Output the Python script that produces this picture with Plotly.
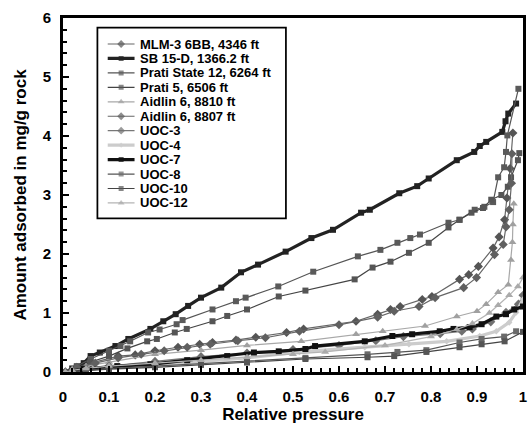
import plotly.graph_objects as go

# ---- isotherm data: relative pressure (x) vs amount adsorbed, mg/g rock (y) ----
series_names = [
    "MLM-3 6BB, 4346 ft",
    "SB 15-D, 1366.2 ft",
    "Prati State 12, 6264 ft",
    "Prati 5, 6506 ft",
    "Aidlin 6, 8810 ft",
    "Aidlin 6, 8807 ft",
    "UOC-3",
    "UOC-4",
    "UOC-7",
    "UOC-8",
    "UOC-10",
    "UOC-12",
]

mlm3_x = [0.005, 0.03, 0.06, 0.12, 0.157, 0.2, 0.25, 0.297, 0.325, 0.376, 0.419, 0.486, 0.523,
          0.637, 0.684, 0.712, 0.733, 0.781, 0.802, 0.862, 0.882, 0.903, 0.935, 0.948, 0.96,
          0.965, 0.972, 0.978]
mlm3_y = [0.0, 0.08, 0.15, 0.27, 0.29, 0.36, 0.42, 0.47, 0.5, 0.54, 0.59, 0.67, 0.73,
          0.86, 0.98, 1.06, 1.11, 1.23, 1.28, 1.57, 1.65, 1.79, 2.1, 2.29, 2.58,
          2.95, 3.45, 4.05]

sb15_x = [0.005, 0.02, 0.045, 0.06, 0.08, 0.114, 0.142, 0.19, 0.218, 0.245, 0.272, 0.30, 0.344,
          0.387, 0.424, 0.484, 0.54, 0.587, 0.648, 0.667, 0.731, 0.77, 0.795, 0.856, 0.894,
          0.906, 0.92, 0.955, 0.962, 0.968, 0.985]
sb15_y = [0.0, 0.06, 0.15, 0.27, 0.33, 0.44, 0.56, 0.73, 0.86, 0.98, 1.12, 1.26, 1.43,
          1.69, 1.82, 2.04, 2.27, 2.41, 2.70, 2.75, 3.03, 3.15, 3.28, 3.59, 3.73,
          3.83, 3.9, 4.07, 4.25, 4.38, 4.55]

prati12_x = [0.005, 0.03, 0.06, 0.1, 0.125, 0.146, 0.185, 0.21, 0.247, 0.26, 0.325, 0.376, 0.397,
             0.468, 0.544, 0.641, 0.69, 0.727, 0.755, 0.776, 0.838, 0.862, 0.895, 0.916, 0.935,
             0.946, 0.959, 0.963, 0.966, 0.99]
prati12_y = [0.0, 0.1, 0.22, 0.36, 0.44, 0.52, 0.67, 0.72, 0.81, 0.88, 1.06, 1.2, 1.26,
             1.45, 1.70, 1.96, 2.07, 2.19, 2.27, 2.33, 2.53, 2.58, 2.75, 2.8, 2.88,
             3.3, 3.47, 3.73, 4.01, 4.8]

prati5_x = [0.005, 0.03, 0.06, 0.1, 0.14, 0.183, 0.204, 0.243, 0.269, 0.325, 0.357, 0.4, 0.469,
            0.527, 0.634, 0.673, 0.712, 0.752, 0.795, 0.838, 0.862, 0.888, 0.913, 0.931, 0.953,
            0.967, 0.974, 0.989, 0.992]
prati5_y = [0.0, 0.08, 0.17, 0.27, 0.4, 0.52, 0.56, 0.67, 0.73, 0.86, 0.95, 1.06, 1.28,
            1.38, 1.57, 1.77, 1.87, 2.02, 2.19, 2.45, 2.58, 2.7, 2.78, 2.92, 3.0,
            3.14, 3.3, 3.59, 3.71]

aid8810_x = [0.005, 0.02, 0.05, 0.1, 0.2, 0.3, 0.4, 0.518, 0.637, 0.695, 0.787, 0.856, 0.9,
             0.92, 0.946, 0.968, 0.974, 0.977, 0.978, 0.98]
aid8810_y = [0.0, 0.05, 0.1, 0.17, 0.3, 0.37, 0.45, 0.52, 0.64, 0.69, 0.78, 0.94, 1.03,
             1.15, 1.35, 1.48, 1.9, 2.2, 2.5, 2.85]

aid8807_x = [0.005, 0.03, 0.07, 0.12, 0.17, 0.22, 0.27, 0.32, 0.38, 0.44, 0.514, 0.6, 0.684,
             0.72, 0.774, 0.809, 0.871, 0.899, 0.938, 0.957, 0.963, 0.97, 0.975, 0.976]
aid8807_y = [0.0, 0.07, 0.15, 0.24, 0.3, 0.36, 0.42, 0.47, 0.53, 0.58, 0.69, 0.8, 0.93,
             1.03, 1.11, 1.26, 1.43, 1.6, 1.99, 2.16, 2.46, 2.75, 3.2, 3.7]

uoc3_x = [0.005, 0.05, 0.1, 0.2, 0.3, 0.4, 0.5, 0.6, 0.68, 0.74, 0.82, 0.867, 0.89, 0.93,
          0.963, 0.99, 1.0]
uoc3_y = [0.0, 0.05, 0.1, 0.18, 0.26, 0.32, 0.38, 0.45, 0.53, 0.6, 0.65, 0.69, 0.73, 0.85,
          1.01, 1.15, 1.3]

uoc4_x = [0.005, 0.05, 0.1, 0.2, 0.3, 0.4, 0.514, 0.656, 0.752, 0.834, 0.906, 0.942, 0.97,
          0.985, 1.0]
uoc4_y = [0.0, 0.04, 0.07, 0.12, 0.18, 0.24, 0.34, 0.42, 0.47, 0.52, 0.61, 0.69, 0.84,
          1.01, 1.23]

uoc7_x = [0.005, 0.045, 0.118, 0.19, 0.27, 0.357, 0.415, 0.469, 0.527, 0.548, 0.656, 0.716,
          0.759, 0.819, 0.849, 0.884, 0.91, 0.942, 0.963, 0.981, 1.0]
uoc7_y = [0.0, 0.05, 0.1, 0.13, 0.2, 0.27, 0.33, 0.35, 0.39, 0.44, 0.52, 0.61,
          0.64, 0.69, 0.73, 0.76, 0.81, 0.94, 0.98, 1.06, 1.11]

uoc8_x = [0.005, 0.05, 0.1, 0.2, 0.3, 0.4, 0.527, 0.662, 0.727, 0.79, 0.862, 0.91, 0.959, 0.985]
uoc8_y = [0.0, 0.03, 0.06, 0.1, 0.14, 0.18, 0.24, 0.3, 0.34, 0.37, 0.5, 0.56, 0.6, 0.69]

uoc10_x = [0.005, 0.05, 0.1, 0.2, 0.3, 0.4, 0.527, 0.662, 0.72, 0.79, 0.862, 0.91, 0.96, 1.0]
uoc10_y = [0.0, 0.02, 0.05, 0.08, 0.12, 0.16, 0.22, 0.25, 0.27, 0.34, 0.42, 0.47, 0.52, 0.68]

uoc12_x = [0.005, 0.02, 0.05, 0.1, 0.2, 0.3, 0.4, 0.5, 0.57, 0.7, 0.8, 0.856, 0.89, 0.927,
           0.946, 0.97, 0.989, 1.0]
uoc12_y = [0.0, 0.03, 0.06, 0.1, 0.15, 0.2, 0.25, 0.3, 0.34, 0.45, 0.6, 0.72, 0.82, 1.0,
           1.13, 1.3, 1.45, 1.6]

series_x = [mlm3_x, sb15_x, prati12_x, prati5_x, aid8810_x, aid8807_x,
            uoc3_x, uoc4_x, uoc7_x, uoc8_x, uoc10_x, uoc12_x]
series_y = [mlm3_y, sb15_y, prati12_y, prati5_y, aid8810_y, aid8807_y,
            uoc3_y, uoc4_y, uoc7_y, uoc8_y, uoc10_y, uoc12_y]

x_tick_vals = [0, 0.1, 0.2, 0.3, 0.4, 0.5, 0.6, 0.7, 0.8, 0.9, 1]
x_tick_text = ["0", "0.1", "0.2", "0.3", "0.4", "0.5", "0.6", "0.7", "0.8", "0.9", "1"]
y_tick_vals = [0, 1, 2, 3, 4, 5, 6]

# style per series: (line colour, line width, marker symbol, marker colour, marker size)
styles = [
    ("#666666", 1.2, "diamond", "#555555", 7),
    ("#222222", 3.2, "square", "#222222", 6),
    ("#555555", 1.2, "square", "#5a5a5a", 6),
    ("#444444", 1.2, "square", "#555555", 6),
    ("#a8a8a8", 1.2, "triangle-up", "#a0a0a0", 7),
    ("#666666", 1.2, "diamond", "#606060", 7),
    ("#777777", 1.2, "diamond", "#707070", 7),
    ("#cccccc", 3.2, "diamond", "#cccccc", 5),
    ("#111111", 3.2, "square", "#111111", 6),
    ("#555555", 1.2, "square", "#6a6a6a", 6),
    ("#444444", 1.2, "square", "#555555", 6),
    ("#b4b4b4", 1.2, "triangle-up", "#aaaaaa", 7),
]

FONT = "Arial, Liberation Sans, sans-serif"

fig = go.Figure()

for name, xs, ys, st in zip(series_names, series_x, series_y, styles):
    lc, lw, sym, mc, ms = st
    fig.add_trace(go.Scatter(
        x=xs, y=ys, name=name, mode="lines+markers",
        line=dict(color=lc, width=lw),
        marker=dict(symbol=sym, color=mc, size=ms, line=dict(width=0)),
        showlegend=False, xaxis="x", yaxis="y",
    ))

# ---- boxed key, drawn on an overlay axis measured in pixels ----
key_line_x = [9.5, 23.0, 36.5]
key_text_x = 39.5
key_top = 15.5
key_step = 14.45
for i, (name, st) in enumerate(zip(series_names, styles)):
    lc, lw, sym, mc, ms = st
    yy = key_top + key_step * i
    fig.add_trace(go.Scatter(
        x=key_line_x, y=[yy] * 3, mode="lines+markers",
        line=dict(color=lc, width=lw),
        marker=dict(symbol=sym, color=mc, size=[0, ms - 1, 0], line=dict(width=0)),
        showlegend=False, hoverinfo="skip", xaxis="x2", yaxis="y2",
    ))
    fig.add_annotation(
        x=key_text_x, y=yy, xref="x2", yref="y2", text=name, showarrow=False,
        xanchor="left", yanchor="middle",
        font=dict(family=FONT, size=13, color="#000000", weight="bold"),
    )

fig.add_shape(
    type="rect", xref="x2 domain", yref="y2 domain", x0=0, x1=1, y0=0, y1=1,
    line=dict(color="#000000", width=3.5), fillcolor="#ffffff", layer="below",
)

tick_font = dict(family=FONT, size=15, color="#000000", weight="bold")
x_title_font = dict(family=FONT, size=17, color="#000000", weight="bold")
y_title_font = dict(family=FONT, size=17, color="#000000", weight="bold")

fig.update_layout(
    width=530, height=425,
    margin=dict(l=63, r=4, t=18, b=53),
    paper_bgcolor="#ffffff", plot_bgcolor="#ffffff",
    xaxis=dict(
        range=[0, 1], tickmode="array", tickvals=x_tick_vals, ticktext=x_tick_text,
        ticks="inside", ticklen=6, tickwidth=2, tickcolor="#000000",
        minor=dict(dtick=0.02, ticks="inside", ticklen=4, tickwidth=2, tickcolor="#000000"),
        showline=True, linecolor="#000000", linewidth=3, mirror=True,
        showgrid=False, zeroline=False, tickfont=tick_font, ticklabelstandoff=9,
        title=dict(text="Relative pressure", font=x_title_font, standoff=0),
    ),
    yaxis=dict(
        range=[0, 6], tickmode="array", tickvals=y_tick_vals,
        ticks="inside", ticklen=6, tickwidth=2, tickcolor="#000000",
        minor=dict(dtick=0.2, ticks="inside", ticklen=4, tickwidth=2, tickcolor="#000000"),
        showline=True, linecolor="#000000", linewidth=3, mirror=True,
        showgrid=False, zeroline=False, tickfont=tick_font, ticklabelstandoff=6,
        title=dict(text="Amount adsorbed in mg/g rock", font=y_title_font, standoff=12),
    ),
    xaxis2=dict(domain=[0.0767, 0.4827], range=[0, 188], visible=False, fixedrange=True),
    yaxis2=dict(domain=[0.4364, 0.9703], range=[189, 0], visible=False, fixedrange=True),
)

fig.write_html("out.html")
